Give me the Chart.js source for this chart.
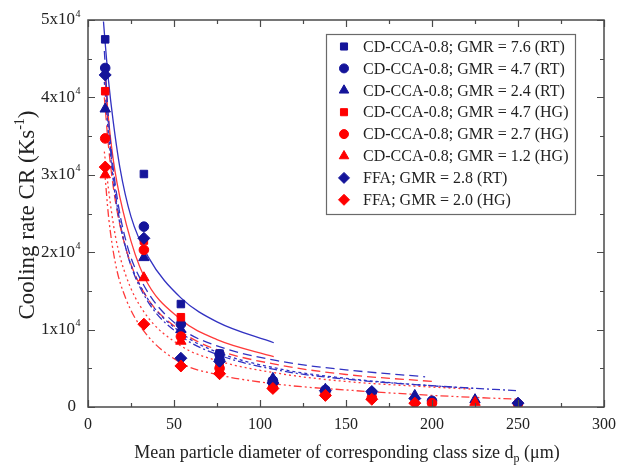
<!DOCTYPE html>
<html><head><meta charset="utf-8">
<script src="https://cdn.jsdelivr.net/npm/chart.js@4/dist/chart.umd.min.js"></script>
<style>html,body{margin:0;padding:0;background:#fff;}#wrap{position:relative;width:621px;height:467px;}</style>
</head><body><div id="wrap"><canvas id="c" width="621" height="467"></canvas></div>
<script>
// ---- Data ----
const legendLabels = [
  'CD-CCA-0.8; GMR = 7.6 (RT)', 'CD-CCA-0.8; GMR = 4.7 (RT)', 'CD-CCA-0.8; GMR = 2.4 (RT)',
  'CD-CCA-0.8; GMR = 4.7 (HG)', 'CD-CCA-0.8; GMR = 2.7 (HG)', 'CD-CCA-0.8; GMR = 1.2 (HG)',
  'FFA; GMR = 2.8 (RT)', 'FFA; GMR = 2.0 (HG)'
];
const xTicks = [0, 50, 100, 150, 200, 250, 300];
const yTicks = [0, 10000, 20000, 30000, 40000, 50000];

const xBlueSq = [10, 32.5, 54, 76.5, 107.5];
const yBlueSq = [47500, 30100, 13300, 6900, 3300];
const xBlueCi = [10, 32.5, 54, 76.5, 107.5, 138, 165, 200];
const yBlueCi = [43800, 23300, 10700, 6800, 3400, 2200, 1900, 800];
const xBlueTr = [10, 32.5, 54, 76.5, 107.5, 138, 190, 225];
const yBlueTr = [38500, 19300, 10000, 6500, 3700, 2300, 1500, 950];
const xRedSq = [10, 32.5, 54, 76.5, 107.5];
const yRedSq = [40800, 21500, 11600, 5400, 2600];
const xRedCi = [10, 32.5, 54, 76.5, 107.5, 138, 165, 200, 250];
const yRedCi = [34700, 20300, 9100, 5000, 2500, 1600, 1200, 500, 400];
const xRedTr = [10, 32.5, 54, 76.5, 107.5, 138, 165, 190, 225];
const yRedTr = [30000, 16700, 8500, 4700, 2700, 1800, 1300, 800, 600];
const xBlueDi = [10, 32.5, 54, 76.5, 107.5, 138, 165, 190, 250];
const yBlueDi = [42900, 21800, 6300, 5900, 3100, 2100, 2000, 1100, 500];
const xRedDi = [10, 32.5, 54, 76.5, 107.5, 138, 165, 190];
const yRedDi = [31000, 10700, 5300, 4300, 2400, 1500, 1000, 500];

// fitted curves
const fitXBlueSq = [9, 10, 12, 14.6, 18.5, 25, 35, 54, 75, 108];
const fitYBlueSq = [49800, 47000, 42000, 37000, 31000, 24600, 19400, 14100, 11000, 8300];
const fitXRedSq = [10, 12, 15.6, 22.4, 32.5, 54, 75, 108];
const fitYRedSq = [42500, 37000, 30600, 23500, 16900, 11300, 8700, 6500];
const fitXBlueCi = [9.5, 12, 16, 22, 32.5, 54, 75, 112, 150, 196];
const fitYBlueCi = [46000, 37000, 28500, 21500, 15700, 10200, 7900, 5900, 4800, 3900];
const fitXRedCi = [9.5, 12, 16, 22, 32.5, 54, 75, 112, 150, 200];
const fitYRedCi = [40000, 33500, 26500, 20500, 14800, 9800, 7400, 5400, 4200, 3300];
const fitXBlueTr = [9.5, 12, 16, 22, 32.5, 54, 75, 112, 150, 190, 224];
const fitYBlueTr = [42000, 35000, 27000, 20500, 14800, 9600, 7100, 4900, 3700, 2900, 2400];
const fitXRedTr = [9.5, 12, 16, 22, 32.5, 54, 75, 112, 150, 190, 224];
const fitYRedTr = [33000, 28000, 22000, 17000, 12300, 7900, 6000, 4300, 3300, 2700, 2300];
const fitXBlueDi = [9.5, 12, 16, 22, 32.5, 54, 75, 112, 150, 200, 250];
const fitYBlueDi = [44000, 36000, 27500, 20500, 14500, 9200, 6800, 4700, 3600, 2750, 2100];
const fitXRedDi = [9.5, 12, 16, 22, 32.5, 54, 75, 112, 150, 200, 250];
const fitYRedDi = [31000, 24500, 18500, 14000, 9800, 5700, 4200, 2900, 2200, 1500, 1000];

// ---- Styles ----
const BLUE = '#14149a', BLUE_LINE = '#3232c2', RED = '#ff0000', RED_LINE = '#ff3a3a';
const FONT = "'Liberation Serif', 'Times New Roman', serif";
const series = [
  {x: xBlueSq, y: yBlueSq, fx: fitXBlueSq, fy: fitYBlueSq, c: BLUE, lc: BLUE_LINE, ps: 'rect', r: 5.3, dash: []},
  {x: xBlueCi, y: yBlueCi, fx: fitXBlueCi, fy: fitYBlueCi, c: BLUE, lc: BLUE_LINE, ps: 'circle', r: 4.8, dash: [9, 5]},
  {x: xBlueTr, y: yBlueTr, fx: fitXBlueTr, fy: fitYBlueTr, c: BLUE, lc: BLUE_LINE, ps: 'triangle', r: 6, dash: [3, 3]},
  {x: xRedSq, y: yRedSq, fx: fitXRedSq, fy: fitYRedSq, c: RED, lc: RED_LINE, ps: 'rect', r: 5.3, dash: []},
  {x: xRedCi, y: yRedCi, fx: fitXRedCi, fy: fitYRedCi, c: RED, lc: RED_LINE, ps: 'circle', r: 4.8, dash: [9, 5]},
  {x: xRedTr, y: yRedTr, fx: fitXRedTr, fy: fitYRedTr, c: RED, lc: RED_LINE, ps: 'triangle', r: 6, dash: [2, 3]},
  {x: xBlueDi, y: yBlueDi, fx: fitXBlueDi, fy: fitYBlueDi, c: BLUE, lc: BLUE_LINE, ps: 'rectRot', r: 6, dash: [8, 3, 2, 3]},
  {x: xRedDi, y: yRedDi, fx: fitXRedDi, fy: fitYRedDi, c: RED, lc: RED_LINE, ps: 'rectRot', r: 6, dash: [8, 3, 2, 3, 2, 3]}
];
const zip = (xs, ys) => xs.map((v, i) => ({x: v, y: ys[i]}));

const datasets = [];
series.forEach((s, i) => {
  datasets.push({
    label: 'fit ' + legendLabels[i], data: zip(s.fx, s.fy), showLine: true,
    borderColor: s.lc, borderWidth: 1.3, borderDash: s.dash, pointRadius: 0,
    cubicInterpolationMode: 'monotone', fill: false, order: 20
  });
});
series.forEach((s, i) => {
  datasets.push({
    label: legendLabels[i], data: zip(s.x, s.y), showLine: false,
    pointStyle: s.ps, pointRadius: s.r, pointBackgroundColor: s.c, pointBorderColor: s.c,
    pointBorderWidth: 1, order: 8 - i
  });
});

function drawMarker(ctx, style, x, y, r, color) {
  ctx.save();
  ctx.fillStyle = color; ctx.strokeStyle = color; ctx.lineWidth = 1;
  ctx.beginPath();
  if (style === 'rect') { const h = r * Math.SQRT1_2; ctx.rect(x - h, y - h, 2 * h, 2 * h); }
  else if (style === 'circle') { ctx.arc(x, y, r, 0, Math.PI * 2); }
  else if (style === 'triangle') {
    for (let k = 0; k < 3; k++) { const a = k * 2 * Math.PI / 3; const px = x + Math.sin(a) * r, py = y - Math.cos(a) * r; k ? ctx.lineTo(px, py) : ctx.moveTo(px, py); }
    ctx.closePath();
  } else { ctx.moveTo(x, y - r); ctx.lineTo(x + r, y); ctx.lineTo(x, y + r); ctx.lineTo(x - r, y); ctx.closePath(); }
  ctx.fill(); ctx.stroke();
  ctx.restore();
}

const decor = {
  id: 'decor',
  afterDraw(chart) {
    const ctx = chart.ctx, a = chart.chartArea, xs = chart.scales.x, ys = chart.scales.y;
    ctx.save();
    // frame
    ctx.strokeStyle = '#4a4a4a'; ctx.lineWidth = 1.5; ctx.setLineDash([]);
    ctx.strokeRect(a.left, a.top, a.right - a.left, a.bottom - a.top);
    ctx.lineWidth = 1.2;
    ctx.beginPath();
    for (let v = 0; v <= 300; v += 25) {
      const px = Math.round(xs.getPixelForValue(v)) + 0.5, L = (v % 50 === 0) ? 7 : 4;
      ctx.moveTo(px, a.bottom); ctx.lineTo(px, a.bottom - L);
      ctx.moveTo(px, a.top); ctx.lineTo(px, a.top + L);
    }
    for (let v = 0; v <= 50000; v += 5000) {
      const py = Math.round(ys.getPixelForValue(v)) + 0.5, L = (v % 10000 === 0) ? 7 : 4;
      ctx.moveTo(a.left, py); ctx.lineTo(a.left + L, py);
      ctx.moveTo(a.right, py); ctx.lineTo(a.right - L, py);
    }
    ctx.stroke();
    // y tick labels
    ctx.fillStyle = '#222'; ctx.textBaseline = 'middle';
    yTicks.forEach(v => {
      const py = ys.getPixelForValue(v);
      ctx.textAlign = 'right'; ctx.font = '17px ' + FONT;
      if (v === 0) { ctx.fillText('0', 76, py); }
      else {
        ctx.fillText((v / 10000) + 'x10', 75, py);
        ctx.textAlign = 'left'; ctx.font = '10px ' + FONT;
        ctx.fillText('4', 75.5, py - 6);
      }
    });
    // x title
    ctx.textAlign = 'left'; ctx.textBaseline = 'alphabetic';
    const t1 = 'Mean particle diameter of corresponding class size d', t2 = 'p', t3 = ' (\u03bcm)';
    ctx.font = '18px ' + FONT; const w1 = ctx.measureText(t1).width, w3 = ctx.measureText(t3).width;
    ctx.font = '12px ' + FONT; const w2 = ctx.measureText(t2).width;
    let sx = 347 - (w1 + w2 + w3) / 2, by = 458;
    ctx.font = '18px ' + FONT; ctx.fillText(t1, sx, by);
    ctx.font = '12px ' + FONT; ctx.fillText(t2, sx + w1, by + 4);
    ctx.font = '18px ' + FONT; ctx.fillText(t3, sx + w1 + w2, by);
    // y title
    ctx.save();
    ctx.translate(34, 215); ctx.rotate(-Math.PI / 2);
    const u1 = 'Cooling rate CR (Ks', u2 = '-1', u3 = ')';
    ctx.font = '23px ' + FONT; const v1 = ctx.measureText(u1).width, v3 = ctx.measureText(u3).width;
    ctx.font = '14px ' + FONT; const v2 = ctx.measureText(u2).width;
    let tx = -(v1 + v2 + v3) / 2;
    ctx.font = '23px ' + FONT; ctx.fillText(u1, tx, 0);
    ctx.font = '14px ' + FONT; ctx.fillText(u2, tx + v1, -10);
    ctx.font = '23px ' + FONT; ctx.fillText(u3, tx + v1 + v2, 0);
    ctx.restore();
    // legend
    ctx.strokeStyle = '#6a6a6a'; ctx.lineWidth = 1.2;
    ctx.strokeRect(326.5, 34.5, 249, 180);
    ctx.font = '16px ' + FONT; ctx.fillStyle = '#222'; ctx.textBaseline = 'middle'; ctx.textAlign = 'left';
    series.forEach((s, i) => {
      const ly = 46.5 + i * 21.9;
      drawMarker(ctx, s.ps, 344, ly, s.ps === 'rect' ? 5 : (s.ps === 'circle' ? 4.5 : 5.5), s.c);
      ctx.fillStyle = '#222';
      ctx.fillText(legendLabels[i], 363, ly + 1);
    });
    ctx.restore();
  }
};

new Chart(document.getElementById('c'), {
  type: 'scatter',
  data: {datasets},
  options: {
    responsive: false, animation: false, devicePixelRatio: 1,
    layout: {padding: {top: 20, right: 17, left: 0, bottom: 0}},
    plugins: {legend: {display: false}, tooltip: {enabled: false}},
    scales: {
      x: {
        type: 'linear', min: 0, max: 300,
        afterBuildTicks: s => { s.ticks = xTicks.map(v => ({value: v})); },
        ticks: {font: {family: FONT, size: 16}, color: '#222', padding: 8, maxRotation: 0},
        grid: {display: false, drawTicks: false}, border: {display: false},
        afterFit: s => { s.height = 60; s.paddingLeft = 0; s.paddingRight = 0; }
      },
      y: {
        type: 'linear', min: 0, max: 50000,
        ticks: {display: false}, grid: {display: false, drawTicks: false}, border: {display: false},
        afterFit: s => { s.width = 88; s.paddingTop = 0; s.paddingBottom = 0; }
      }
    }
  },
  plugins: [decor]
});
</script></body></html>
